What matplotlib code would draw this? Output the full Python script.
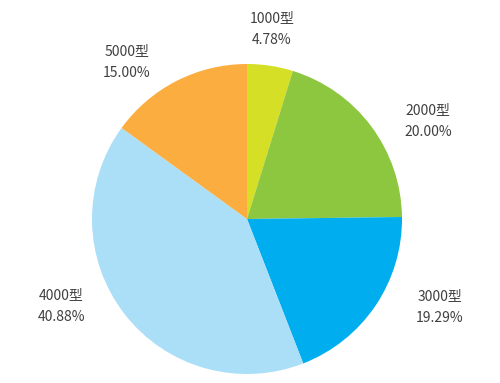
import matplotlib
matplotlib.use("Agg")
import matplotlib.pyplot as plt

models = ["1000型", "2000型", "3000型", "4000型", "5000型"]
shares = [4.78, 20.00, 19.29, 40.88, 15.00]
colors = ["#d5df26", "#8dc63f", "#00aeef", "#aadff7", "#fbad40"]

# label centres, in pie-radius units
label_pos = [(0.161, 1.226), (1.168, 0.632), (1.245, -0.568),
             (-1.20, -0.561), (-0.774, 1.013)]

fig = plt.figure(figsize=(5, 3.83), dpi=100)
ax = fig.add_axes([0, 0, 1, 1])

wedges, texts = ax.pie(shares, colors=colors, startangle=90, counterclock=False,
                       radius=1, labels=[f"{m}\n{s:.2f}%" for m, s in zip(models, shares)],
                       wedgeprops=dict(linewidth=0))

for t, (x, y) in zip(texts, label_pos):
    t.set_position((x, y))
    t.set_ha("center")
    t.set_va("center")
    t.set_fontsize(10)
    t.set_color("#404040")
    t.set_family(["Noto Sans CJK SC", "DejaVu Sans"])
    t.set_linespacing(1.65)

r = 155.0
ax.set_xlim(-247 / r, (500 - 247) / r)
ax.set_ylim(-(383 - 219) / r, 219 / r)
ax.set_aspect("equal")
ax.axis("off")

fig.savefig("out.png", dpi=100)
